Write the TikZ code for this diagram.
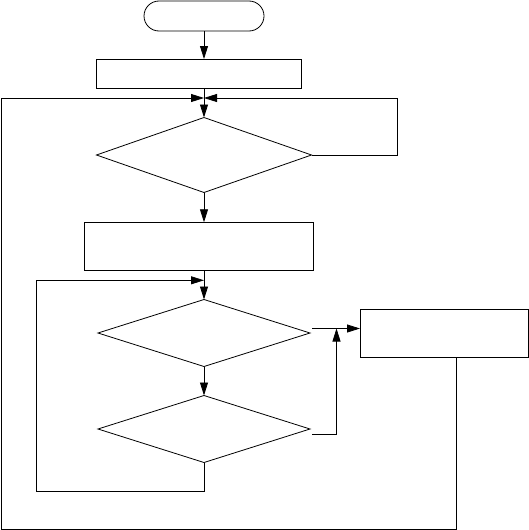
\documentclass[tikz,border=0pt]{standalone}
\usetikzlibrary{shapes.geometric,shapes.misc,arrows.meta,calc}
\begin{document}
\begin{tikzpicture}[x=1pt,y=-1pt,
  every node/.style={inner sep=0pt,outer sep=0pt,draw,line width=0.8pt},
  procbox/.style={rectangle},
  decide/.style={diamond},
  termbox/.style={rounded rectangle},
  conn/.style={line width=0.8pt},
  flow/.style={conn,-{Triangle[length=13pt,width=8pt]}}]
\useasboundingbox (0,0) rectangle (529,530);
\node[termbox,minimum width=120pt,minimum height=30pt] (start) at (204,16) {};
\node[procbox,minimum width=205pt,minimum height=29pt] (b1) at (198.5,73.5) {};
\node[decide,minimum width=215pt,minimum height=75pt] (d1) at (204,155) {};
\node[procbox,minimum width=229pt,minimum height=48pt] (b2) at (198.5,246.3) {};
\node[decide,minimum width=212pt,minimum height=67pt] (d2) at (204,333) {};
\node[decide,minimum width=212pt,minimum height=67pt] (d3) at (204,429) {};
\node[procbox,minimum width=168pt,minimum height=48pt] (b3) at (444,333) {};
\coordinate (j1) at (204,98);
\coordinate (j2) at (204,280.3);
\coordinate (j3) at (336.5,328.5);
% main flow
\draw[flow] (start.south) -- (start.south |- b1.north);
\draw[flow] (d1.north |- b1.south) -- (d1.north);
\draw[flow] (d1.south) -- (d1.south |- b2.north);
\draw[flow] (d2.north |- b2.south) -- (d2.north);
\draw[flow] (d2.south) -- (d3.north);
% loop from d1 right
\draw[flow] (d1.east) -- (397,155) -- (397,98) -- (j1);
% outer loop from b3
\draw[flow] (b3.south -| 456,0) -- (456,529) -- (1,529) -- (1,98) -- (j1);
% inner loop from d3
\draw[flow] (d3.south) -- (204,491) -- (36.7,491) -- (36.7,280.3) -- (j2);
% d2 right to b3
\draw[flow] (312,328.5) -- (b3.west |- j3);
% d3 right up to junction
\draw[flow] (312,434) -- (336.5,434) -- (j3);
\end{tikzpicture}
\end{document}
